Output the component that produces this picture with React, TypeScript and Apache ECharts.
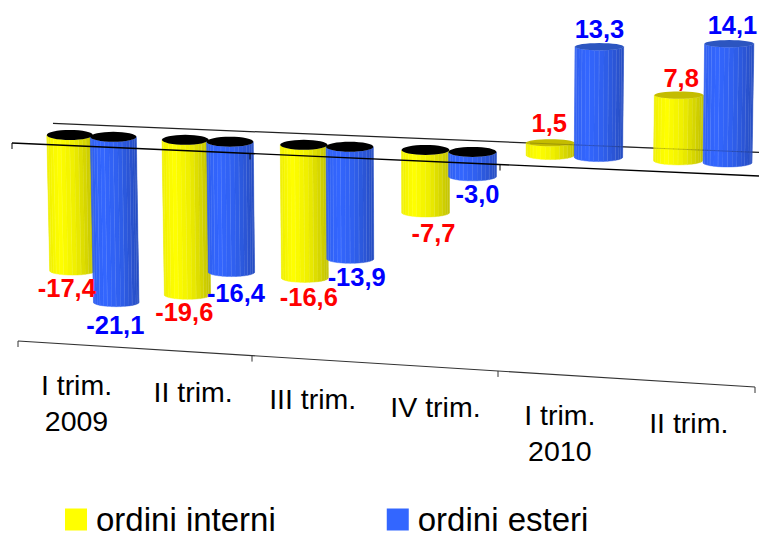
import React, { useEffect, useRef } from "react";
import * as echarts from "echarts";

const categories = ["I trim.\n2009", "II trim.", "III trim.", "IV trim.", "I trim.\n2010", "II trim."];
const ordiniInterni = [-17.4, -19.6, -16.6, -7.7, 1.5, 7.8];
const ordiniEsteri = [-21.1, -16.4, -13.9, -3.0, 13.3, 14.1];
const seriesNames = ["ordini interni", "ordini esteri"];

const FONT = '"Liberation Sans", Arial, sans-serif';
const GRID = { left: 30, width: 720, top: 11.31, height: 322 };
const BAND = GRID.width / categories.length;
const SLOPE = 0.042;
const LABEL_NUDGE_A: number[][] = [[-3, 13], [-1, 13], [5, 15], [8, 16], [-1, -16], [3, -14]];
const LABEL_NUDGE_B: number[][] = [[2, 18], [6, 16], [7, 14], [5, 13], [1, -14], [5, -15]];
const CATEGORY_NUDGE = [-0.5, 0, 0.5, 1, 0, 0.5];

// perspective helpers, turning the flat cartesian coordinates into the tilted view
const warpX = (px: number) => {
  const u = (px - (GRID.left + BAND / 2)) / BAND;
  return 91.5 + 114.5 * u + 1.55 * u * u;
};
const warpDy = (dy: number, x: number) => dy * (0.969 + 0.00012 * (x - 70));

const lerp = (c: number[], f: number) => `rgb(${c.map((v) => Math.round(v * f)).join(",")})`;
const shade = (t: number) => {
  if (t < 0.25) return 0.94 + (1 - 0.94) * (t / 0.25);
  if (t < 0.6) return 1 - 0.07 * ((t - 0.25) / 0.35);
  return 0.93 - 0.17 * ((t - 0.6) / 0.4);
};

function cylinder(api: any, side: number, base: number[], topColor: string) {
  const i = api.value(0);
  const v = api.value(1);
  const zero = api.coord([i, 0]);
  const end = api.coord([i, v]);
  const offs = side * 0.19 * BAND;
  const cx = warpX(zero[0] + offs);
  const y0 = zero[1] + SLOPE * cx;
  const yv = y0 + warpDy(end[1] - zero[1], cx);
  const upper = Math.min(y0, yv);
  const lower = Math.max(y0, yv);
  const r = 23 + 0.3 * i;
  const k = 5.3e-5;
  const xAt = (y: number) => cx + (450 - cx) * k * (y - y0);
  const rAt = (y: number) => r * (1 - k * (y - y0));
  const ryTop = v < 0 ? 5 : 3.6;
  const ryBottom = 4.4;
  const N = 16;
  const pt = (y: number, ry: number, th: number) => [xAt(y) + rAt(y) * Math.cos(th), y + ry * Math.sin(th)];
  const children: any[] = [];
  for (let n = 0; n < N; n++) {
    const a = Math.PI - (Math.PI * n) / N;
    const b = Math.PI - (Math.PI * (n + 1)) / N;
    const t = (1 - Math.cos((a + b) / 2)) / 2;
    const col = lerp(base, shade(1 - t));
    children.push({
      type: "polygon",
      shape: { points: [pt(upper, ryTop, a), pt(upper, ryTop, b), pt(lower, ryBottom, b), pt(lower, ryBottom, a)] },
      style: { fill: col, stroke: col, lineWidth: 0.4 },
    });
    if (n % 2 === 1 && n < N - 1) {
      const p = pt(upper, ryTop, b);
      const q = pt(lower, ryBottom, b);
      children.push({
        type: "line",
        shape: { x1: p[0], y1: p[1], x2: q[0], y2: q[1] },
        style: { stroke: "#ffffff", opacity: 0.2, lineWidth: 1 },
      });
    }
  }
  const pts: number[][] = [];
  for (let n = 0; n < N * 2; n++) pts.push(pt(upper, ryTop, (Math.PI * n) / N));
  children.push({ type: "polygon", shape: { points: pts }, style: { fill: v < 0 ? "#000000" : topColor } });
  return { type: "group", children };
}

function valueLabel(api: any, side: number, nudge: number[][], fill: string) {
  const i = api.value(0);
  const v = api.value(1);
  const zero = api.coord([i, 0]);
  const end = api.coord([i, v]);
  const cx = warpX(zero[0] + side * 0.19 * BAND);
  const y0 = zero[1] + SLOPE * cx;
  const yv = y0 + warpDy(end[1] - zero[1], cx);
  const edge = yv + (v < 0 ? 4.4 : -3.6);
  return {
    type: "text",
    style: {
      text: v.toFixed(1).replace(".", ","),
      x: cx + nudge[i][0],
      y: edge + nudge[i][1],
      fill,
      fontSize: 25.5,
      fontWeight: "bold",
      fontFamily: FONT,
      align: "center",
      verticalAlign: "middle",
    },
  };
}

const hLine = (x1: number, y1: number, x2: number, y2: number, stroke: string, lineWidth: number, opacity = 1) => ({
  type: "line",
  shape: { x1, y1, x2, y2 },
  style: { stroke, lineWidth, opacity },
});

const FRONT_TICKS = [12, 250, 500];
const BOTTOM_TICKS = [18, 252, 498, 755];

export default function App() {
  const ref = useRef<HTMLDivElement>(null);
  useEffect(() => {
    const chart = echarts.init(ref.current!, null, { renderer: "svg" });
    const idx = categories.map((_, i) => i);
    chart.setOption({
      animation: false,
      backgroundColor: "#ffffff",
      grid: { left: GRID.left, width: GRID.width, top: GRID.top, height: GRID.height },
      xAxis: { type: "category", data: categories, show: false },
      yAxis: { type: "value", min: -25, max: 15, interval: 5, show: false },
      legend: {
        data: seriesNames,
        left: 65,
        top: 503,
        padding: 0,
        itemWidth: 22,
        itemHeight: 22,
        itemGap: 111,
        icon: "rect",
        textStyle: { fontSize: 33, fontFamily: FONT, color: "#000000", padding: [0, 0, 6, 4] },
      },
      series: [
        {
          type: "custom",
          z: 1,
          silent: true,
          data: [[0, 0]],
          renderItem: (_p: any, api: any) => {
            const base = api.coord([0, 0])[1];
            const back = (x: number) => base + 0.0411 * x - 10.8;
            return hLine(53, back(53), 759, back(759), "#222222", 1.2);
          },
        },
        {
          type: "custom",
          name: seriesNames[0],
          z: 2,
          itemStyle: { color: "#FFFF00" },
          encode: { x: 0, y: 1 },
          data: ordiniInterni.map((v, i) => [i, v]),
          renderItem: (_p: any, api: any) => cylinder(api, -1, [255, 255, 0], "#C4BC00"),
        },
        {
          type: "custom",
          name: seriesNames[1],
          z: 3,
          itemStyle: { color: "#3366FF" },
          encode: { x: 0, y: 1 },
          data: ordiniEsteri.map((v, i) => [i, v]),
          renderItem: (_p: any, api: any) => cylinder(api, 1, [51, 102, 255], "#2C55C0"),
        },
        {
          type: "custom",
          z: 4,
          silent: true,
          data: [[0, 0]],
          renderItem: (_p: any, api: any) => {
            const base = api.coord([0, 0])[1];
            const front = (x: number) => base + 0.0442 * x + 10.4;
            const back = (x: number) => base + 0.0411 * x - 10.8;
            const lower = (x: number) => 341 + 0.0624 * (x - 18);
            const kids: any[] = [
              hLine(12, front(12), 759, front(759), "#000000", 1.3),
              hLine(18, lower(18), 755, lower(755), "#333333", 1.1),
              hLine(530, back(530), 759, back(759), "#222222", 0.8, 0.3),
            ];
            FRONT_TICKS.forEach((x) => kids.push(hLine(x, front(x), x, front(x) + 6, "#000000", 1)));
            BOTTOM_TICKS.forEach((x) => kids.push(hLine(x, lower(x), x, lower(x) + 6, "#333333", 1)));
            return { type: "group", children: kids };
          },
        },
        {
          type: "custom",
          z: 5,
          silent: true,
          data: ordiniInterni.map((v, i) => [i, v]),
          renderItem: (_p: any, api: any) => valueLabel(api, -1, LABEL_NUDGE_A, "#FF0000"),
        },
        {
          type: "custom",
          z: 5,
          silent: true,
          data: ordiniEsteri.map((v, i) => [i, v]),
          renderItem: (_p: any, api: any) => valueLabel(api, 1, LABEL_NUDGE_B, "#0000FF"),
        },
        {
          type: "custom",
          z: 5,
          silent: true,
          data: idx.map((i) => [i, 0]),
          renderItem: (_p: any, api: any) => {
            const i = api.value(0);
            const x = warpX(api.coord([i, 0])[0]) - 14.5 + CATEGORY_NUDGE[i];
            const y = 341 + 0.0624 * (x - 18) + 22;
            return {
              type: "text",
              style: {
                text: categories[i],
                x,
                y,
                fill: "#000000",
                fontSize: 28.5,
                lineHeight: 36,
                fontFamily: FONT,
                align: "center",
                verticalAlign: "top",
              },
            };
          },
        },
      ],
    });
    return () => chart.dispose();
  }, []);
  return <div ref={ref} style={{ position: "fixed", left: 0, top: 0, width: 759, height: 534 }} />;
}
